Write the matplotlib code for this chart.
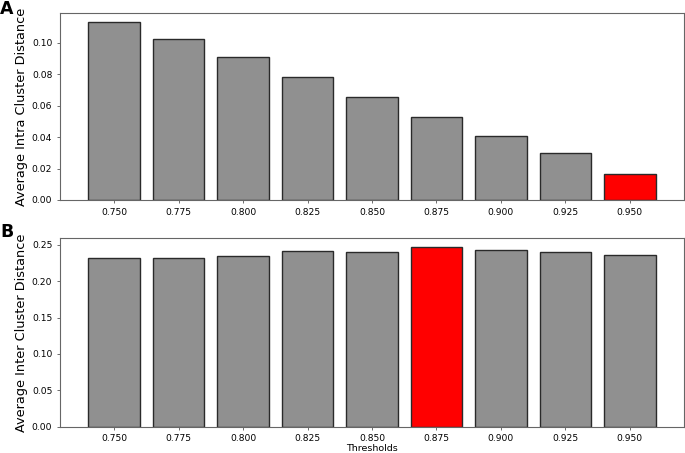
import matplotlib
matplotlib.use('Agg')
import matplotlib.pyplot as plt
import numpy as np

thresholds = ['0.750', '0.775', '0.800', '0.825', '0.850', '0.875', '0.900', '0.925', '0.950']
intra_dist = [0.1131, 0.1023, 0.0907, 0.0783, 0.0654, 0.0527, 0.0409, 0.0299, 0.0163]
inter_dist = [0.2312, 0.2322, 0.2344, 0.2408, 0.2404, 0.2463, 0.2431, 0.2404, 0.2363]
best_intra = 8
best_inter = 5

bar_gray = '#909090'
edge = '#2a2a2a'

fig = plt.figure(figsize=(6.85, 4.53), dpi=100)
ax1 = fig.add_axes([0.0876, 0.5585, 0.911, 0.4128])
ax2 = fig.add_axes([0.0876, 0.0581, 0.911, 0.4155])

x = np.arange(len(thresholds))

def draw_panel(ax, values, best, ylabel):
    colors = [bar_gray] * len(values)
    colors[best] = 'red'
    ax.bar(x, values, width=0.8, color=colors, edgecolor=edge, linewidth=1.0)
    ax.set_xticks(x)
    ax.set_xticklabels(thresholds)
    ax.set_ylabel(ylabel, fontsize=9.3, labelpad=3)
    ax.tick_params(labelsize=6.6, length=2.5, width=0.6, color='#555555', pad=3)
    for s in ax.spines.values():
        s.set_color('#666666')
        s.set_linewidth(0.8)

draw_panel(ax1, intra_dist, best_intra, 'Average Intra Cluster Distance')
draw_panel(ax2, inter_dist, best_inter, 'Average Inter Cluster Distance')
ax2.set_xlabel('Thresholds', fontsize=6.8, labelpad=0.5)

fig.text(0.0, 1.0, 'A', fontsize=12.5, fontweight='bold', ha='left', va='top')
fig.text(0.0, 1 - 223 / 453, 'B', fontsize=12.5, fontweight='bold', ha='left', va='top')

fig.savefig('out.png', dpi=100)
